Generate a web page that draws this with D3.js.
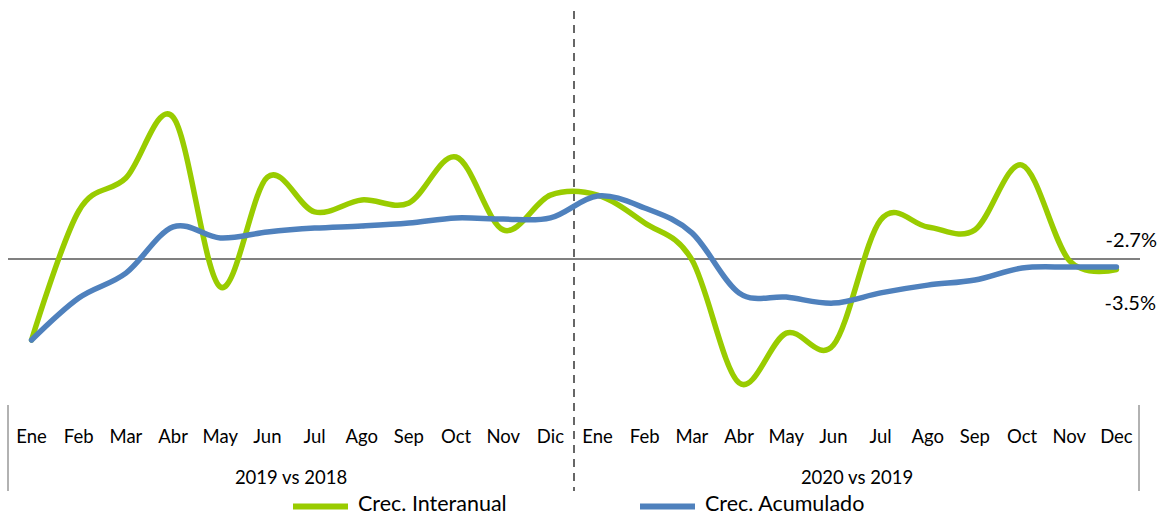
<!DOCTYPE html>
<html>
<head>
<meta charset="utf-8">
<script src="https://cdn.jsdelivr.net/npm/d3@7"></script>
<style>
  html, body { margin: 0; padding: 0; background: #fff; }
  svg { display: block; font-family: Lato, "Open Sans", sans-serif; }
</style>
</head>
<body>
<svg id="chart" width="1160" height="515"></svg>
<script>
// ---- data ----
const months = ["Ene","Feb","Mar","Abr","May","Jun","Jul","Ago","Sep","Oct","Nov","Dic",
                "Ene","Feb","Mar","Abr","May","Jun","Jul","Ago","Sep","Oct","Nov","Dec"];
const groups = ["2019 vs 2018", "2020 vs 2019"];
const interanual = [-27, 16, 27, 47.3, -9.3, 27.3, 15.7, 19.7, 18.7, 34, 9.7, 21.3,
                    21.3, 12, -0.3, -41.3, -24.7, -28.7, 13, 10.7, 9.7, 31.3, -0.5, -3.5];
const acumulado  = [-27, -13, -4.7, 10.7, 7, 9, 10.3, 11, 12, 13.7, 13.3, 13.7,
                    21, 17, 8.7, -11.3, -12.7, -14.7, -11.3, -8.7, -7, -3, -2.7, -2.7];
const seriesNames = ["Crec. Interanual", "Crec. Acumulado"];
const endLabels = ["-2.7%", "-3.5%"];

// ---- drawing ----
const svg = d3.select("#chart");
const green = "#99CC00", blue = "#4F81BD";

const x = d3.scaleBand().domain(d3.range(months.length)).range([8, 1140]).paddingInner(0).paddingOuter(0);
const y = d3.scaleLinear().domain([-50, 50]).range([409, 109]);
const cx = i => x(i) + x.bandwidth() / 2;

// zero line
svg.append("line")
  .attr("x1", x.range()[0]).attr("x2", x.range()[1])
  .attr("y1", y(0)).attr("y2", y(0))
  .attr("stroke", "#808080").attr("stroke-width", 2);

// divider
const divX = x(12);
svg.append("line")
  .attr("x1", divX).attr("x2", divX).attr("y1", 11).attr("y2", 491)
  .attr("stroke", "#666").attr("stroke-width", 2).attr("stroke-dasharray", "8,6");

// outer axis ticks
[x.range()[0], x.range()[1] - 1].forEach(px => {
  svg.append("line").attr("x1", px).attr("x2", px).attr("y1", 405).attr("y2", 491)
    .attr("stroke", "#999").attr("stroke-width", 1.5);
});

// lines
const line = d3.line().x((d, i) => cx(i)).y(d => y(d)).curve(d3.curveCatmullRom.alpha(0));
svg.append("path").datum(interanual).attr("d", line)
  .attr("fill", "none").attr("stroke", green).attr("stroke-width", 5.5)
  .attr("stroke-linecap", "round").attr("stroke-linejoin", "round");
svg.append("path").datum(acumulado).attr("d", line)
  .attr("fill", "none").attr("stroke", blue).attr("stroke-width", 5.5)
  .attr("stroke-linecap", "round").attr("stroke-linejoin", "round");

// month labels
svg.append("g").selectAll("text").data(months).join("text")
  .attr("x", (d, i) => cx(i)).attr("y", 443)
  .attr("text-anchor", "middle").attr("font-size", 18.5).attr("fill", "#000")
  .text(d => d);

// group labels
svg.append("g").selectAll("text").data(groups).join("text")
  .attr("x", (d, i) => (x(i * 12) + x(i * 12 + 11) + x.bandwidth()) / 2).attr("y", 484)
  .attr("text-anchor", "middle").attr("font-size", 18.5).attr("fill", "#000")
  .text(d => d);

// end labels
svg.append("text").attr("x", 1157).attr("y", 247).attr("text-anchor", "end")
  .attr("font-size", 20).text(endLabels[0]);
svg.append("text").attr("x", 1156).attr("y", 310).attr("text-anchor", "end")
  .attr("font-size", 20).text(endLabels[1]);

// legend
const legend = [{name: seriesNames[0], color: green, x: 293}, {name: seriesNames[1], color: blue, x: 640}];
legend.forEach(l => {
  svg.append("line").attr("x1", l.x).attr("x2", l.x + 55).attr("y1", 506.5).attr("y2", 506.5)
    .attr("stroke", l.color).attr("stroke-width", 6);
  svg.append("text").attr("x", l.x + 65).attr("y", 511).attr("font-size", 21.5).attr("fill", "#000")
    .text(l.name);
});
</script>
</body>
</html>
